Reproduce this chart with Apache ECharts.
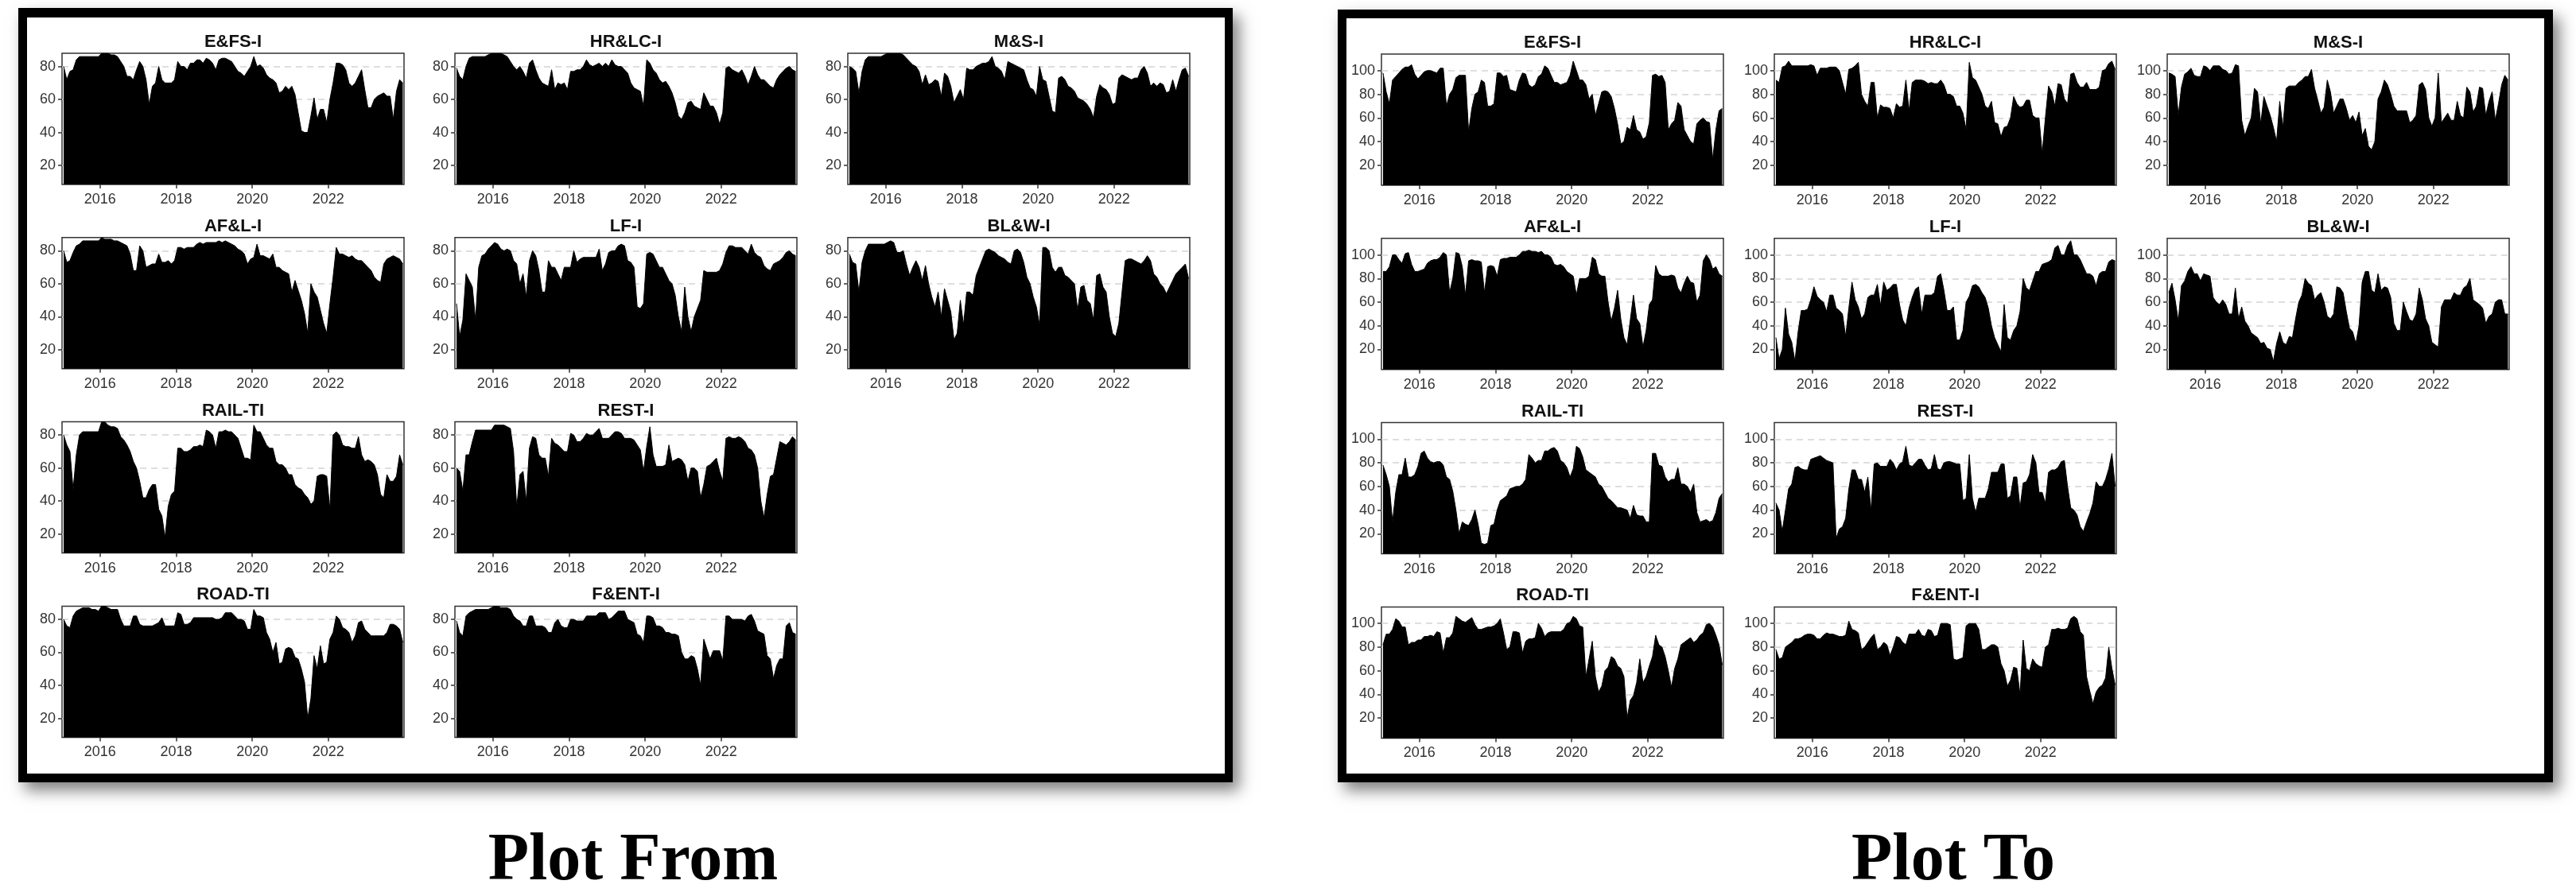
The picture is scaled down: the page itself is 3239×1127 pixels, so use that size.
<!DOCTYPE html>
<html><head><meta charset="utf-8">
<script src="https://cdn.jsdelivr.net/npm/echarts@6/dist/echarts.min.js"></script>
<style>html,body{margin:0;padding:0;background:#fff;}#c{width:3239px;height:1127px;}</style>
</head><body><div id="c"></div>
<script>
// ---------------- DATA ----------------
const years = [2015,2016,2017,2018,2019,2020,2021,2022,2023];
const monthNums = [1,2,3,4,5,6,7,8,9,10,11,12];
const titles = ['E&FS-I','HR&LC-I','M&S-I','AF&L-I','LF-I','BL&W-I','RAIL-TI','REST-I','ROAD-TI','F&ENT-I'];
const panelLabels = ['Plot From','Plot To'];
const xTickYears = [2016,2018,2020,2022];
const yTicksFrom = [20,40,60,80];
const yTicksTo = [20,40,60,80,100];

// "Plot From" series (monthly, Jan 2015 .. Dec 2023)
const fromEFS = [80,72,77,78,84,86,86,86,86,86,86,86, 88,88,88,87,87,86,83,80,74,74,72,78, 83,80,72,57,68,70,80,72,70,70,70,72, 83,80,80,78,82,82,84,84,82,85,84,82, 78,84,85,85,84,83,80,77,76,74,77,80, 86,80,81,79,75,73,72,70,64,65,68,66, 68,63,52,41,40,40,50,61,48,54,54,46, 60,70,82,82,81,78,70,68,70,74,78,66, 55,55,60,62,63,64,62,62,48,65,72,70];
const fromHRLC = [79,74,72,80,85,86,86,86,86,86,87,88, 88,88,88,87,86,83,80,78,80,77,73,82, 84,78,73,70,69,68,78,66,70,69,70,66, 77,77,78,78,80,84,81,80,81,82,80,82, 80,84,81,80,80,78,76,70,67,66,65,56, 84,82,78,76,72,70,71,68,64,58,50,48, 52,58,59,56,55,54,64,60,56,56,52,45, 52,79,80,78,77,76,78,74,69,74,80,75, 72,72,70,68,67,72,75,77,79,80,78,77];
const fromMS = [80,79,77,64,77,84,86,86,86,86,86,87, 88,88,88,88,88,87,85,83,81,80,77,69, 75,69,70,72,71,62,76,74,68,58,62,66, 60,79,78,78,80,81,82,82,83,86,80,79, 77,72,83,82,81,80,79,78,72,67,66,62, 80,72,71,62,53,52,73,74,72,68,67,65, 61,60,59,57,54,49,62,69,67,66,63,57, 58,73,75,74,73,72,73,73,78,80,76,68, 70,68,70,69,64,65,72,65,72,78,79,74];
const fromAFL = [80,73,74,79,83,84,86,86,86,86,86,86, 88,87,87,87,86,86,85,84,83,78,68,68, 83,80,70,71,72,72,78,73,73,74,72,74, 82,82,81,82,82,82,84,85,84,85,85,85, 85,86,85,86,85,84,83,81,80,78,72,75, 76,84,77,77,76,75,78,70,70,68,67,66, 55,62,56,50,42,30,60,55,52,44,36,30, 48,64,82,78,78,77,76,77,75,74,74,72, 70,68,64,62,61,72,75,76,77,76,75,72];
const fromLF = [48,28,38,66,62,58,38,70,77,78,81,83, 85,84,81,80,81,80,74,72,60,66,52,74, 80,77,68,55,55,74,70,70,66,62,70,70, 70,80,73,75,76,76,76,76,76,81,68,72, 79,80,80,83,84,83,74,73,70,46,45,48, 78,79,78,74,70,70,66,62,60,53,40,31, 58,40,31,40,45,50,68,67,67,67,67,68, 72,79,83,83,82,82,82,80,78,84,79,77, 76,71,69,68,72,73,74,76,79,80,78,77];
const fromBLW = [78,73,72,55,73,80,84,84,84,84,84,84, 85,86,85,79,79,80,72,65,70,74,70,62, 71,60,52,46,55,40,57,50,43,26,30,50, 35,55,55,53,65,70,75,80,81,80,79,77, 76,75,73,72,80,81,79,73,64,60,52,46, 35,82,82,80,70,67,70,70,65,64,62,60, 44,58,59,50,48,38,65,66,58,55,40,30, 28,36,55,74,75,75,74,73,72,74,77,74, 66,64,60,58,54,58,62,66,68,70,72,63];
const fromRAIL = [80,74,70,47,68,80,82,82,82,82,82,82, 88,88,86,85,85,84,79,77,74,70,64,60, 52,42,42,47,50,50,35,31,18,37,44,46, 72,72,70,70,71,73,73,74,73,83,82,80, 72,82,82,83,82,82,80,78,72,66,66,65, 86,82,82,78,74,72,72,64,62,62,60,56, 56,50,48,47,44,42,38,40,55,56,56,55, 35,80,82,80,74,73,73,72,72,79,68,64, 65,64,62,56,44,42,56,52,52,55,68,62];
const fromREST = [60,58,46,68,68,76,83,83,83,83,83,83, 86,86,86,86,85,84,70,36,56,58,40,72, 79,78,68,66,66,55,78,75,74,72,70,70, 81,80,76,76,78,81,80,80,82,84,78,78, 78,80,82,82,81,78,78,78,77,74,71,58, 73,85,68,61,61,61,62,74,64,65,66,65, 62,52,60,60,58,42,50,61,62,64,66,58, 52,78,79,78,78,79,78,76,72,71,68,60, 40,30,44,55,56,66,76,75,74,76,79,77];
const fromROAD = [80,76,75,82,85,86,87,87,87,86,86,85, 88,88,87,86,86,86,80,76,76,76,82,82, 77,76,76,76,76,77,78,81,76,76,76,76, 84,83,77,77,78,81,81,81,81,81,81,81, 80,80,81,84,84,84,82,80,80,79,74,74, 86,82,82,81,72,68,60,66,53,54,62,63, 62,57,56,50,42,20,32,58,50,64,53,54, 68,72,82,80,75,74,72,66,70,78,79,74, 72,70,70,70,70,70,72,77,77,76,74,66];
const fromFENT = [79,72,70,82,84,85,86,86,86,86,86,87, 88,88,87,87,87,86,82,80,79,76,76,82, 82,76,76,76,75,72,72,78,80,76,75,75, 80,80,79,79,79,82,82,82,82,84,84,84, 80,81,83,85,85,85,80,79,78,71,70,66, 82,82,81,76,76,75,72,72,71,71,70,60, 56,56,58,57,50,40,68,62,56,61,61,61, 55,82,82,80,80,80,80,79,82,83,79,73, 72,71,58,56,44,52,56,56,76,78,72,71];

// "Plot To" series
const toEFS = [98,82,72,92,95,98,101,103,103,105,97,93, 96,99,100,100,99,98,102,102,70,80,84,94, 96,96,96,48,68,80,82,92,90,70,70,72, 98,98,95,96,84,83,82,92,98,97,88,86, 88,95,97,104,102,96,90,90,88,89,90,96, 108,100,92,92,88,76,80,62,72,82,83,82, 78,68,55,38,40,52,50,62,50,48,42,44, 56,96,97,95,96,90,50,55,58,73,70,50, 45,40,38,55,58,60,57,56,25,50,66,68];
const toHRLC = [92,90,103,104,108,104,104,104,104,104,104,105, 104,96,102,102,102,103,103,103,100,90,80,101, 102,104,107,80,74,70,90,90,60,71,69,69, 68,60,72,69,70,92,66,90,92,92,92,91, 89,90,89,89,92,88,80,80,78,70,70,64, 50,107,94,92,86,80,70,68,74,56,55,44, 52,53,60,78,72,69,70,75,75,62,60,60, 30,60,87,82,70,89,88,76,72,97,98,90, 86,86,90,84,84,84,86,100,101,106,108,101];
const toMS = [98,97,95,62,86,97,99,102,96,95,95,104, 103,100,104,104,104,101,100,97,98,105,104,58, 45,53,60,85,82,55,78,70,62,52,40,74, 52,85,87,87,87,90,92,95,95,101,85,75, 64,69,92,82,64,70,76,76,68,58,62,56, 65,45,51,36,33,40,76,82,92,88,80,70, 66,66,66,66,56,58,62,88,90,84,60,53, 60,98,56,60,64,58,58,74,62,60,86,82, 65,70,86,85,62,74,82,58,72,88,96,92];
const toAFL = [86,86,90,100,100,96,93,101,102,92,86,86, 87,88,93,95,96,96,98,102,100,68,80,102, 101,90,66,95,96,95,95,94,68,90,91,90, 82,96,97,97,98,98,98,100,103,103,104,103, 103,102,103,100,100,98,92,91,92,90,86,84, 82,66,80,80,80,82,98,96,84,82,82,60, 44,55,70,46,30,24,45,66,46,42,22,36, 58,62,91,84,82,82,82,83,82,72,68,76, 82,77,76,60,66,95,100,96,88,90,84,82];
const toLF = [30,12,20,55,33,26,10,35,53,53,54,62, 73,65,62,60,52,66,66,55,53,50,31,55, 77,62,56,46,50,64,66,66,75,57,77,70, 72,75,75,58,45,40,55,64,71,73,50,66, 66,66,68,82,84,70,53,53,56,28,28,36, 60,65,74,75,73,68,64,55,40,30,24,18, 58,30,28,36,40,52,80,72,70,78,86,86, 92,93,94,96,106,108,100,100,108,112,100,100, 96,90,84,84,82,74,84,86,86,94,96,95];
const toBLW = [68,76,62,44,74,78,86,90,84,84,78,84, 83,82,64,60,58,62,58,50,50,72,46,56, 44,40,34,32,30,25,26,21,20,10,25,35, 26,24,31,30,46,60,66,80,76,74,62,66, 68,60,48,46,50,73,72,68,52,38,35,25, 40,77,86,86,70,68,84,70,73,72,64,42, 36,36,60,52,45,44,50,72,62,46,40,26, 24,22,56,62,62,62,68,66,66,72,74,80, 62,60,58,55,42,48,50,60,62,62,50,50];
const toRAIL = [78,70,60,30,55,70,70,84,68,68,70,77, 88,90,84,81,80,81,81,78,68,66,56,40, 20,30,28,27,32,40,28,12,11,12,27,28, 40,48,50,52,58,59,60,60,62,66,87,84, 80,82,82,90,90,92,93,90,82,80,76,68, 75,94,92,85,74,72,70,68,62,60,55,50, 48,45,42,42,41,40,33,44,36,35,35,30, 30,88,88,78,77,68,64,66,66,76,62,62, 60,55,62,38,30,31,32,30,31,38,50,54];
const toREST = [46,40,22,40,58,62,76,77,75,74,74,83, 84,85,86,84,82,81,80,16,24,26,33,58, 74,74,66,66,55,68,40,79,80,77,77,77, 83,80,74,79,81,94,78,77,80,83,83,78, 74,75,87,75,74,80,81,81,80,79,79,48, 50,87,50,38,50,50,50,58,72,72,72,79, 79,50,52,68,68,42,63,64,70,87,80,55, 55,46,72,74,74,76,81,82,60,42,40,36, 26,22,30,37,46,64,60,60,66,75,88,60];
const toROAD = [82,91,91,95,104,102,97,97,82,84,84,86, 86,89,89,90,89,93,92,75,88,88,92,106, 104,102,101,103,105,99,95,95,96,97,97,98, 100,104,92,78,80,93,93,92,75,85,87,87, 88,100,96,89,92,93,93,93,93,95,100,101, 106,104,98,97,55,70,85,55,42,47,60,63, 72,70,64,62,55,20,35,39,50,70,50,55, 64,72,90,82,80,72,60,46,62,70,82,84, 86,88,84,86,90,92,99,100,97,90,82,65];
const toFENT = [78,70,71,80,82,84,87,87,88,90,91,91, 90,87,87,90,92,91,91,90,89,89,90,102, 95,94,92,78,80,84,88,91,78,80,84,82, 73,80,89,88,84,82,91,91,91,95,90,89, 95,94,89,90,100,100,100,99,70,69,70,71, 98,100,100,100,95,78,78,80,82,82,80,66, 60,47,52,63,62,40,86,62,60,70,66,64, 63,80,82,95,95,96,95,95,96,104,106,104, 93,90,55,43,32,42,46,48,54,80,62,48];

const fromSeries = [fromEFS, fromHRLC, fromMS, fromAFL, fromLF, fromBLW, fromRAIL, fromREST, fromROAD, fromFENT];
const toSeries = [toEFS, toHRLC, toMS, toAFL, toLF, toBLW, toRAIL, toREST, toROAD, toFENT];

// ---------------- LAYOUT ----------------
const months = [];
years.forEach(y => monthNums.forEach(m => months.push(y + '-' + String(m).padStart(2, '0'))));
const xs = months.map(s => { const p = s.split('-').map(Number); return p[0] + (p[1] - 0.5) / 12; });

const slots = [[0,0],[0,1],[0,2],[1,0],[1,1],[1,2],[2,0],[2,1],[3,0],[3,1]];
const layout = [
  { x0: 78,   y0: 67, yMin: 8.5, yMax: 88,  ticks: yTicksFrom, series: fromSeries,
    frame: [23, 10, 1527, 974], inner: [34, 22, 1506, 951], labelX: 796 },
  { x0: 1737, y0: 68, yMin: 3,   yMax: 114, ticks: yTicksTo,   series: toSeries,
    frame: [1682, 12, 1528, 972], inner: [1693, 23, 1506, 950], labelX: 2456 }
];
const COL_DX = 494, ROW_DY = 231.8, PW = 430, PH = 165;
const FONT = '"Liberation Sans", Arial, sans-serif';

const grids = [], xAxes = [], yAxes = [], series = [], graphics = [];

layout.forEach((P, pi) => {
  graphics.push({ type: 'rect', z: -10, shape: { x: P.frame[0], y: P.frame[1], width: P.frame[2], height: P.frame[3] },
    style: { fill: '#000', shadowBlur: 18, shadowOffsetX: 8, shadowOffsetY: 10, shadowColor: 'rgba(0,0,0,0.5)' } });
  graphics.push({ type: 'rect', z: -9, shape: { x: P.inner[0], y: P.inner[1], width: P.inner[2], height: P.inner[3] },
    style: { fill: '#fff' } });
  graphics.push({ type: 'text', z: 5, x: P.labelX, y: 1084,
    style: { text: panelLabels[pi], font: 'bold 84px "Liberation Serif", "DejaVu Serif", serif', fill: '#000', align: 'center', verticalAlign: 'middle' } });

  titles.forEach((t, i) => {
    const [r, c] = slots[i];
    const left = P.x0 + c * COL_DX;
    const top = P.y0 + r * ROW_DY;
    const gi = grids.length;
    grids.push({ left: left, top: top, width: PW, height: PH, show: true, backgroundColor: '#fff',
      borderColor: '#333', borderWidth: 1.5, containLabel: false });
    xAxes.push({ gridIndex: gi, type: 'value', min: 2015, max: 2023.99,
      splitLine: { show: false }, axisLine: { show: false },
      axisTick: { show: true, length: 5, lineStyle: { color: '#333', width: 1.5 }, customValues: xTickYears },
      axisLabel: { show: true, customValues: xTickYears, margin: 10, fontSize: 18, color: '#333', fontFamily: FONT,
        formatter: v => (xTickYears.indexOf(Math.round(v)) >= 0 && Math.abs(v - Math.round(v)) < 1e-6) ? String(Math.round(v)) : '' } });
    yAxes.push({ gridIndex: gi, type: 'value', min: P.yMin, max: P.yMax, splitNumber: 5,
      axisLine: { show: false },
      axisTick: { show: true, length: 5, lineStyle: { color: '#333', width: 1.5 }, customValues: P.ticks },
      axisLabel: { show: true, customValues: P.ticks, margin: 8, fontSize: 18, color: '#333', fontFamily: FONT,
        formatter: v => (P.ticks.indexOf(v) >= 0) ? String(v) : '' },
      splitLine: { show: true, lineStyle: { color: '#d4d4d4', width: 1.5, type: [8, 6] } } });
    series.push({ type: 'line', xAxisIndex: gi, yAxisIndex: gi, name: titles[i] + ' ' + panelLabels[pi],
      data: P.series[i].map((v, k) => [xs[k], v]), symbol: 'none', silent: true,
      lineStyle: { color: '#000', width: 1 }, areaStyle: { color: '#000', opacity: 1, origin: 'start' } });
    graphics.push({ type: 'text', z: 5, x: left + PW / 2, y: top - 14,
      style: { text: t, font: 'bold 22px ' + FONT, fill: '#111', align: 'center', verticalAlign: 'middle' } });
  });
});

const chart = echarts.init(document.getElementById('c'), null, { renderer: 'canvas', width: 3239, height: 1127 });
chart.setOption({
  animation: false,
  backgroundColor: '#fff',
  grid: grids, xAxis: xAxes, yAxis: yAxes, series: series,
  graphic: { elements: graphics }
});
</script></body></html>
